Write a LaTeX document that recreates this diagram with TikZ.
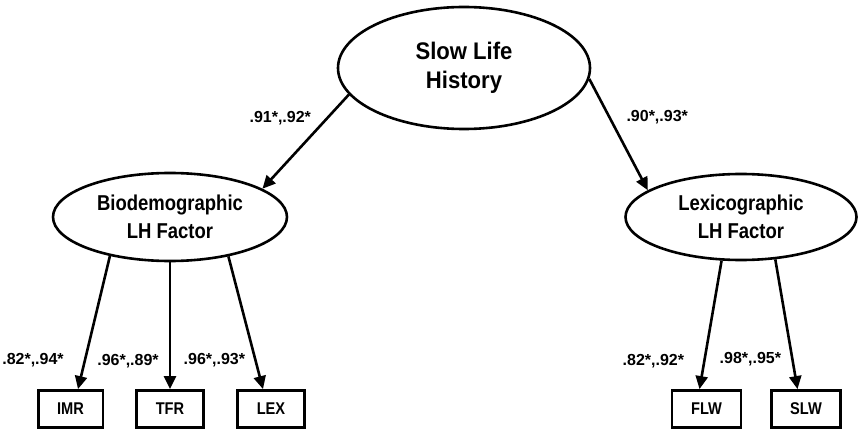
\documentclass[tikz,border=0pt]{standalone}
\usepackage{fontspec}
\setmainfont{Liberation Sans}
\newfontfamily\narrowsans{Liberation Sans}[FakeStretch=0.86]
\usetikzlibrary{shapes.geometric,arrows.meta}

\tikzstyle{latent}=[ellipse,draw,line width=2.6pt,fill=white,inner sep=0pt,align=center,font=\narrowsans\bfseries\fontsize{21.5pt}{28pt}\selectfont]
\tikzstyle{observed}=[rectangle,draw,line width=2.8pt,fill=white,inner xsep=19pt,minimum height=37pt,font=\narrowsans\bfseries\fontsize{17pt}{20pt}\selectfont]
\tikzstyle{loading}=[-{Triangle[length=13pt,width=12pt]},line width=2.6pt]
\tikzstyle{coef}=[inner sep=0pt,font=\bfseries\fontsize{16pt}{18pt}\selectfont]

\begin{document}
\begin{tikzpicture}[x=1pt,y=1pt]
		\useasboundingbox (0,0) rectangle (859,429);
		\node[latent,minimum width=252pt,minimum height=122pt,font=\narrowsans\bfseries\fontsize{24pt}{29pt}\selectfont\addfontfeature{FakeStretch=0.92}] (slow) at (464,361) {Slow Life\\History};
		\node[latent,minimum width=234pt,minimum height=88pt,below of=slow,node distance=149pt,xshift=-294pt] (bio){Biodemographic\\LH Factor};
		\node[latent,minimum width=231pt,minimum height=86pt,right of=bio,node distance=571pt] (lex){Lexicographic\\LH Factor};
		\node[observed,below of=bio,node distance=192pt] (tfr){TFR};
		\node[observed,left of=tfr,node distance=99.5pt] (imr){IMR};
		\node[observed,right of=tfr,node distance=101pt] (lexbox){LEX};
		\node[observed,below of=lex,node distance=192pt,xshift=-34.5pt] (flw){FLW};
		\node[observed,right of=flw,node distance=99.5pt] (slw){SLW};
		\draw[loading] (slow.193)--node[coef,pos=.25,left=15pt] (c1){.91*,.92*} (bio.17);
		\draw[loading] (slow.355)--node[coef,pos=.34,right=16pt] (c2){.90*,.93*} (lex.164);
		\draw[loading] (bio.213)--node[coef,pos=.78,left=20pt] (c3){.82*,.94*} ([xshift=7.5pt]imr.north);
		\draw[loading] (bio.south)--node[coef,pos=.78,left=10pt] (c4){.96*,.89*} (tfr.north);
		\draw[loading] (bio.326)--node[coef,pos=.78,left=9pt] (c5){.96*,.93*} ([xshift=-8pt]lexbox.north);
		\draw[loading] (lex.246)--node[coef,pos=.78,left=19pt] (c6){.82*,.92*} ([xshift=-7pt]flw.north);
		\draw[loading] (lex.309)--node[coef,pos=.77,left=10pt] (c7){.98*,.95*} ([xshift=-8.5pt]slw.north);
	\end{tikzpicture}
\end{document}
